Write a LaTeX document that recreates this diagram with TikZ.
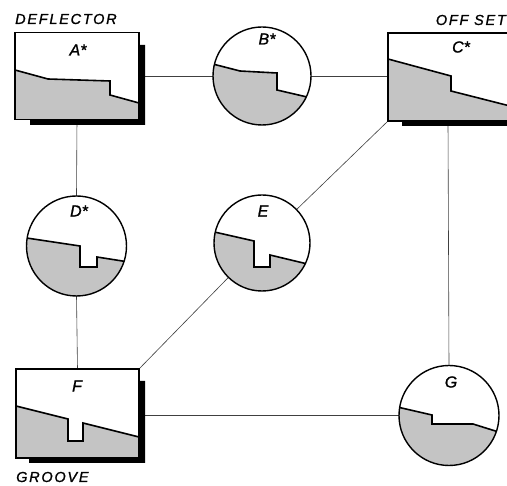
\documentclass[tikz,border=0pt]{standalone}
\usepackage{fontspec}
\setmainfont{Liberation Sans}
\begin{document}
\begin{tikzpicture}[x=1pt,y=-1pt,
  frame/.style={draw=black,line width=1.1pt,fill=white,minimum width=#1,inner sep=0pt,outer sep=0pt,rectangle},
  lens/.style={circle,draw=none,minimum size=#1,inner sep=0pt,outer sep=0pt},
  link/.style={draw=black!75,line width=0.6pt},
  rim/.style={draw=black,line width=1.4pt},
  profile/.style={draw=black,line width=1.6pt,line join=miter},
  mass/.style={fill=black!23},
  shade/.style={fill=black},
  tag/.style={font=\itshape\fontsize{16}{16}\selectfont\addfontfeature{FakeBold=1.2},inner sep=0pt},
  title/.style={font=\itshape\fontsize{14.5}{15}\selectfont\addfontfeature{LetterSpace=12,FakeBold=1.2},inner sep=0pt}]
\useasboundingbox[fill=white] (0,0) rectangle (507,486);

% stations
\node[frame=124pt,minimum height=87pt] (A) at (77,76) {};
\node[frame=120pt,minimum height=88pt] (C) at (448,77) {};
\node[frame=123pt,minimum height=89pt] (F) at (77.5,413.5) {};
\node[lens=98pt] (B) at (262,76) {};
\node[lens=100pt] (D) at (76.5,246) {};
\node[lens=96pt] (E) at (262,243) {};
\node[lens=100pt] (G) at (449,415.5) {};

% links between stations
\draw[link] (A.east) -- (B.west);
\draw[link] (B.east) -- (C.west |- B.east);
\draw[link] (A.south) -- (D.north);
\draw[link] (D.south) -- (F.north);
\draw[link] (G.west) -- (G.west -| F.east);
\draw[link] (C.south) -- (G.north);
\draw[link] (C.south west) -- (E);
\draw[link] (E) -- (F.north east);

% drop shadows
\path[shade] (139,45) -- (145,45) -- (145,125) -- (30,125) -- (30,120) -- (139,120) -- cycle;
\path[shade] (139,381) -- (145,381) -- (145,463) -- (29,463) -- (29,458) -- (139,458) -- cycle;
\path[shade] (402,121) rectangle (510,126);

% box A: deflector
\path[fill=white] (A.north west) rectangle (A.south east);
\path[mass] (15,70) -- (48,79) -- (110,81) -- (110,95) -- (139,103) -- (139,120) -- (15,120) -- cycle;
\draw[profile] (15,70) -- (48,79) -- (110,81) -- (110,95) -- (139,103);
\draw[line width=1.1pt] (A.north west) rectangle (A.south east);

% box C: offset
\path[mass] (388,59) -- (451,76) -- (451,91) -- (510,106) -- (510,121) -- (388,121) -- cycle;
\draw[profile] (388,59) -- (451,76) -- (451,91) -- (510,106);
\draw[line width=1.1pt] (C.north west) rectangle (C.south east);

% box F: groove
\path[mass] (16,406) -- (68,419) -- (68,441) -- (83,441) -- (83,423) -- (139,437) -- (139,458) -- (16,458) -- cycle;
\draw[profile] (16,406) -- (68,419) -- (68,441) -- (83,441) -- (83,423) -- (139,437);
\draw[line width=1.1pt] (F.north west) rectangle (F.south east);

% circle B
\path[fill=white] (B) circle (49);
\begin{scope}
  \clip (B) circle (49);
  \path[mass] (205,62) -- (240,71) -- (277,73) -- (277,90) -- (320,100) -- (320,130) -- (205,130) -- cycle;
  \draw[profile] (205,62) -- (240,71) -- (277,73) -- (277,90) -- (320,100);
\end{scope}
\draw[rim] (B) circle (49);

% circle D
\path[fill=white] (D) circle (50);
\begin{scope}
  \clip (D) circle (50);
  \path[mass] (20,237) -- (80,246) -- (80,267) -- (97,267) -- (97,257) -- (135,263) -- (135,300) -- (20,300) -- cycle;
  \draw[profile] (20,237) -- (80,246) -- (80,267) -- (97,267) -- (97,257) -- (135,263);
\end{scope}
\draw[rim] (D) circle (50);

% circle E
\path[fill=white] (E) circle (48);
\begin{scope}
  \clip (E) circle (48);
  \path[mass] (210,231) -- (254,241) -- (254,267) -- (270,267) -- (270,255) -- (320,267) -- (320,295) -- (210,295) -- cycle;
  \draw[profile] (210,231) -- (254,241) -- (254,267) -- (270,267) -- (270,255) -- (320,267);
\end{scope}
\draw[rim] (E) circle (48);

% circle G
\path[fill=white] (G) circle (50);
\begin{scope}
  \clip (G) circle (50);
  \path[mass] (393,406) -- (432,415) -- (432,424) -- (473,424) -- (505,434) -- (505,470) -- (393,470) -- cycle;
  \draw[profile] (393,406) -- (432,415) -- (432,424) -- (473,424) -- (505,434);
\end{scope}
\draw[rim] (G) circle (50);

% labels
\node[tag] (lA) at (78,50) {A*};
\node[tag] (lB) at (267,39) {B*};
\node[tag] (lC) at (461,47) {C*};
\node[tag] (lD) at (79,211) {D*};
\node[tag] (lE) at (263,211) {E};
\node[tag] (lF) at (77,386) {F};
\node[tag] (lG) at (451,382) {G};

\node[title,anchor=west] (tDef) at (15,19) {DEFLECTOR};
\node[title,anchor=east] (tOff) at (506,20) {OFF SET};
\node[title,anchor=west] (tGro) at (16,477) {GROOVE};
\end{tikzpicture}
\end{document}
